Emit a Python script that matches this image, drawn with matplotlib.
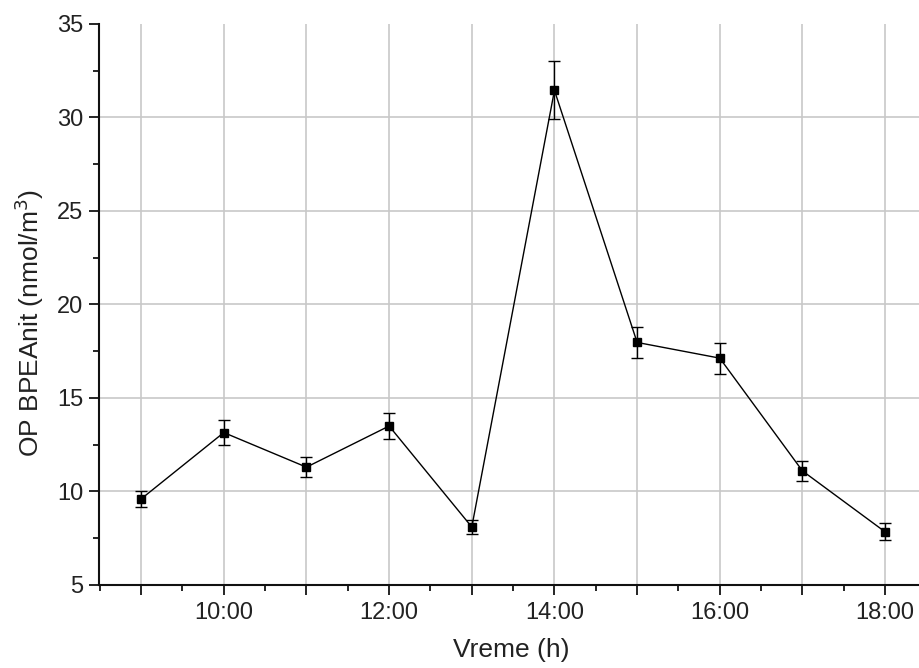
import matplotlib
matplotlib.use("Agg")
import matplotlib.pyplot as plt
from matplotlib.ticker import FixedLocator, MultipleLocator, FuncFormatter

plt.rcParams['font.family'] = ['Liberation Sans', 'DejaVu Sans']

# Sampling hours and measured concentrations
hours = [9, 10, 11, 12, 13, 14, 15, 16, 17, 18]
values = [9.6, 13.15, 11.3, 13.5, 8.1, 31.45, 17.97, 17.13, 11.1, 7.84]
errors = [0.45, 0.65, 0.55, 0.7, 0.4, 1.55, 0.85, 0.83, 0.55, 0.45]

x_label = "Vreme (h)"
y_label = "OP BPEAnit (nmol/m$^3$)"

fig = plt.figure(figsize=(9.19, 6.68), dpi=100)
ax = fig.add_axes([0.1077, 0.1243, 0.8923, 0.8398])

ax.errorbar(hours, values, yerr=errors, color='black', linewidth=1.0,
            marker='s', markersize=6, capsize=4.5, elinewidth=1.0,
            capthick=1.0, zorder=3)

ax.set_xlim(8.49, 18.41)
ax.set_ylim(5, 35)

ax.xaxis.set_major_locator(FixedLocator(hours))
ax.xaxis.set_minor_locator(FixedLocator([h + 0.5 for h in range(8, 19)]))
ax.xaxis.set_major_formatter(
    FuncFormatter(lambda v, p: f"{int(round(v))}:00" if int(round(v)) % 2 == 0 else ""))

ax.yaxis.set_major_locator(MultipleLocator(5))
ax.yaxis.set_minor_locator(MultipleLocator(2.5))

ax.tick_params(axis='both', which='major', direction='out', length=7.5,
               width=1.2, labelsize=17, colors='black', labelcolor='#222222')
ax.tick_params(axis='both', which='minor', direction='out', length=4,
               width=1.2, colors='black')
ax.tick_params(axis='x', which='major', pad=5)
ax.tick_params(axis='y', which='major', pad=4)

for s in ['top', 'right']:
    ax.spines[s].set_visible(False)
for s in ['left', 'bottom']:
    ax.spines[s].set_linewidth(1.5)
    ax.spines[s].set_color('#111111')

ax.grid(True, which='major', color='#c8c8c8', linewidth=1.2, zorder=0)
ax.set_axisbelow(True)
fig.canvas.draw()
for tick in ax.yaxis.get_major_ticks():
    if abs(tick.get_loc() - 35) < 1e-6 or abs(tick.get_loc() - 5) < 1e-6:
        tick.gridline.set_visible(False)

ax.set_xlabel(x_label, fontsize=19, color='#222222')
ax.set_ylabel(y_label, fontsize=19, color='#222222')
ax.xaxis.set_label_coords((511 - 99) / (919 - 99), -0.095)
ax.yaxis.set_label_coords((46 - 99) / (919 - 99), (584 - 322) / (584 - 24))

fig.savefig("out.png", dpi=100, facecolor='white')
